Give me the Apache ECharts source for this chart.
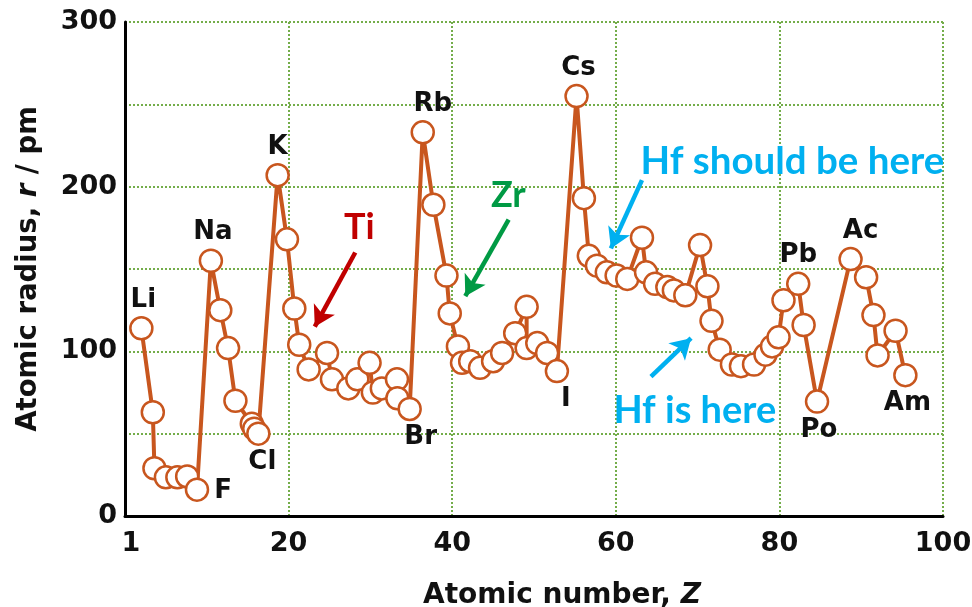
<!DOCTYPE html>
<html>
<head>
<meta charset="utf-8">
<script src="https://cdn.jsdelivr.net/npm/echarts@6.0.0/dist/echarts.min.js"></script>
<style>
  html, body { margin: 0; padding: 0; background: #fff; }
  #chart { width: 972px; height: 607px; }
</style>
</head>
<body>
<div id="chart"></div>
<script>
// atomic radius against atomic number
const elements = ['Li','Be','B','C','N','O','F',
  'Na','Mg','Al','Si','P','S','Cl',
  'K','Ca','Sc','Ti','V','Cr','Mn','Fe','Co','Ni','Cu','Zn','Ga','Ge','Br',
  'Rb','Sr','Y','Zr','Nb','Mo','Tc','Ru','Rh','Pd','Ag','Cd','In','Sn','Sb','I',
  'Cs','Ba','La','Ce','Pr','Nd','Pm','Eu','Gd','Tb','Dy','Ho','Er','Yb','Lu','Hf','Ta','W','Re','Os','Ir','Pt','Au','Hg','Pb','Bi','Po',
  'Ac','Th','Pa','U','Np','Am'];
const atomicZ = [2.0, 3.4, 3.6, 5.0, 6.4, 7.6, 8.8,
  10.5, 11.65, 12.6, 13.5, 15.5, 15.8, 16.3,
  18.66, 19.8, 20.7, 21.3, 22.45, 24.7, 25.3, 27.3, 28.4, 29.9, 30.3, 31.4, 33.25, 33.3, 34.8,
  36.4, 37.7, 39.3, 39.7, 40.7, 41.2, 42.2, 43.4, 45.0, 46.1, 47.7, 49.1, 49.1, 50.4, 51.6, 52.8,
  55.2, 56.1, 56.7, 57.7, 58.9, 60.1, 61.4, 63.2, 63.7, 64.8, 66.3, 67.1, 68.5, 70.3, 71.2, 71.7, 72.7, 74.2, 75.3, 76.9, 78.3, 79.1, 79.9, 80.5, 82.3, 82.96, 84.6,
  88.7, 90.6, 91.5, 92.0, 94.2, 95.4];
const radius = [114, 63, 29, 23.5, 23.5, 24, 16,
  155, 125, 102, 70, 56, 53, 50,
  207, 168, 126, 104, 89, 99, 83, 77.5, 83, 93, 75, 77.5, 83, 71.5, 65,
  233, 189, 146, 123, 103, 93, 94, 90, 94, 99, 111, 127, 102, 105, 99, 88,
  255, 193, 158, 152, 148, 146, 144, 169, 148, 141, 139, 137, 134, 164.5, 139.5, 118.5, 101, 92, 91, 92, 98, 103, 108.5, 131, 141, 116, 69.5,
  156, 145, 122, 97.5, 112.5, 85.5];

// which points carry a black element label, and where
const tagged = {
  Li: ['top', [2, 0]], Na: ['top', [2, 0]], K: ['top', [0, 0]], Rb: ['top', [10, 0]],
  Cs: ['top', [2, 0]], Pb: ['top', [0, 0]], Ac: ['top', [10, 0]],
  F: ['right', [2, 2]], Cl: ['bottom', [4, 0]], Br: ['bottom', [11, 0]],
  I: ['bottom', [9, 0]], Po: ['bottom', [2, 0]], Am: ['bottom', [2, 0]]
};

// coloured notes with arrows
const noteText = ['Ti', 'Zr', 'Hf should be here', 'Hf is here'];
const noteAt = [[28.64, 175], [46.86, 195], [81.6, 215], [69.66, 64]];
const arrowFrom = [[28.15, 160], [46.9, 180], [63.2, 204], [64.3, 84.6]];
const arrowTo = [[23.2, 115], [41.6, 133.5], [59.4, 162.5], [69.2, 108]];
const noteColor = ['#c00000', '#009a44', '#00b0f0', '#00b0f0'];
const noteSize = [36, 36, 38.5, 38];

const bold = 'DejaVu Sans';
const lineColor = '#c8561e';
const gridColor = '#74ad4a';

const points = atomicZ.map(function (z, i) {
  let item = { name: elements[i], value: [z, radius[i]] };
  let t = tagged[elements[i]];
  if (t) {
    item.label = { show: true, formatter: elements[i], position: t[0], offset: t[1], distance: 3 };
  }
  return item;
});

const option = {
  animation: false,
  backgroundColor: '#fff',
  grid: { left: 125, right: 29, top: 22, bottom: 91, containLabel: false, outerBoundsMode: 'none' },
  xAxis: {
    type: 'value', min: 0, max: 100, interval: 20,
    name: 'Atomic number, {i|Z}', nameLocation: 'middle', nameGap: 66,
    nameTextStyle: {
      fontFamily: bold, fontWeight: 'bold', fontSize: 28, color: '#111', padding: [0, 0, 0, 56],
      rich: { i: { fontFamily: bold, fontWeight: 'bold', fontStyle: 'italic', fontSize: 28, color: '#111' } }
    },
    axisLine: { lineStyle: { color: '#000', width: 3 } },
    axisTick: { show: false },
    axisLabel: {
      margin: 14, fontFamily: bold, fontWeight: 'bold', fontSize: 27, color: '#111',
      formatter: function (v) { return v === 0 ? '{one|1}' : String(v); },
      rich: { one: { fontFamily: bold, fontWeight: 'bold', fontSize: 27, color: '#111', padding: [0, 0, 0, 12] } }
    },
    splitLine: { show: true, lineStyle: { color: gridColor, type: 'dotted', width: 2 } }
  },
  yAxis: {
    type: 'value', min: 0, max: 300, interval: 50,
    name: 'Atomic radius, {i|r} / pm', nameLocation: 'middle', nameGap: 82,
    nameTextStyle: {
      fontFamily: bold, fontWeight: 'bold', fontSize: 27.5, color: '#111',
      rich: { i: { fontFamily: bold, fontWeight: 'bold', fontStyle: 'italic', fontSize: 27.5, color: '#111' } }
    },
    axisLine: { show: true, lineStyle: { color: '#000', width: 3 } },
    axisTick: { show: false },
    axisLabel: {
      margin: 8, fontFamily: bold, fontWeight: 'bold', fontSize: 27, color: '#111',
      formatter: function (v) { return v % 100 === 0 ? String(v) : ''; }
    },
    splitLine: { show: true, lineStyle: { color: gridColor, type: 'dotted', width: 2 } }
  },
  series: [
    {
      type: 'line',
      data: points,
      symbol: 'circle',
      symbolSize: 22,
      lineStyle: { color: lineColor, width: 4 },
      itemStyle: { color: '#fff', borderColor: lineColor, borderWidth: 2.5 },
      label: { show: false, fontFamily: bold, fontWeight: 'bold', fontSize: 26, color: '#111' },
      emphasis: { disabled: true },
      markLine: {
        silent: true,
        symbol: ['none', 'arrow'],
        symbolSize: [18, 20],
        label: { show: false },
        data: arrowFrom.map(function (a, i) {
          return [
            { coord: a, lineStyle: { color: noteColor[i], width: 4.5, type: 'solid' }, itemStyle: { color: noteColor[i] } },
            { coord: arrowTo[i] }
          ];
        })
      },
      markPoint: {
        silent: true,
        symbol: 'rect',
        symbolSize: 1,
        itemStyle: { color: 'rgba(0,0,0,0)' },
        data: noteAt.map(function (c, i) {
          return {
            coord: c,
            label: {
              show: true, position: 'inside', formatter: noteText[i],
              fontFamily: 'Lato', fontWeight: 'bold', fontSize: noteSize[i], color: noteColor[i]
            }
          };
        })
      }
    }
  ]
};

const chart = echarts.init(document.getElementById('chart'));
chart.setOption(option);
</script>
</body>
</html>
